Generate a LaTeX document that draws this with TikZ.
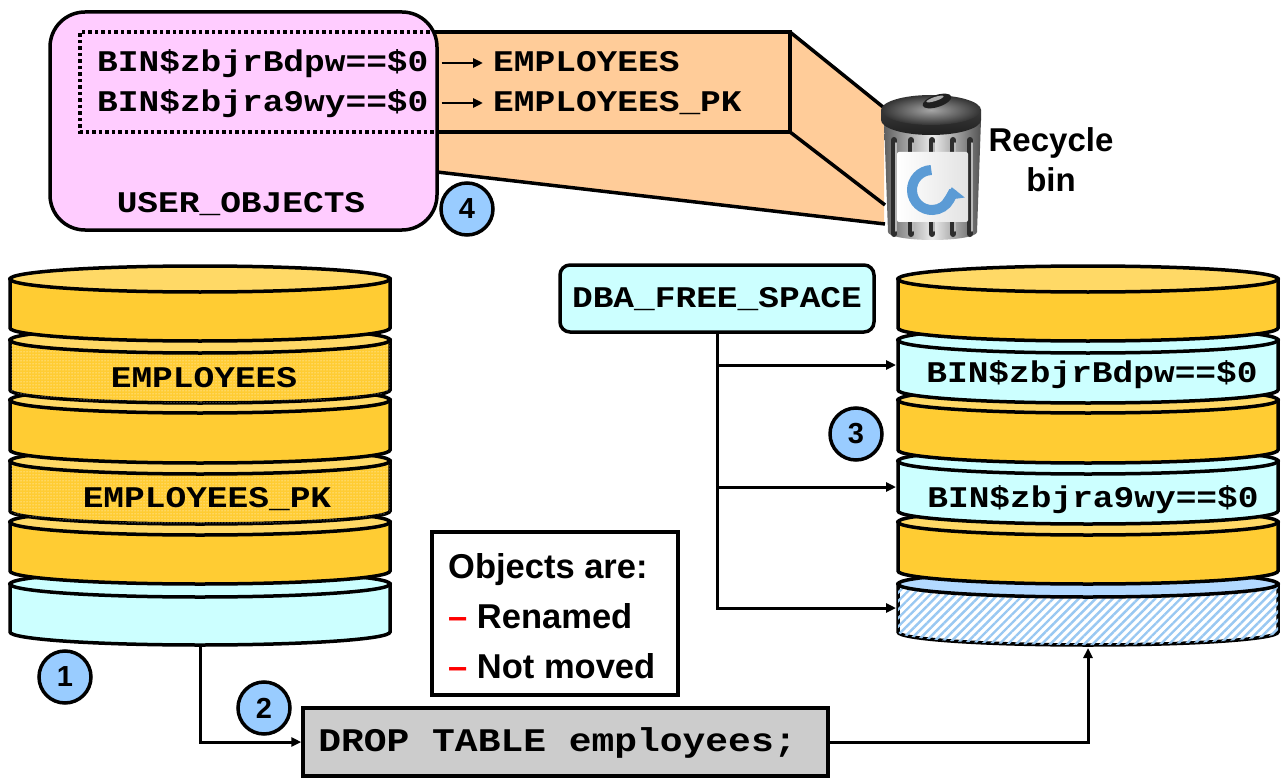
\documentclass[tikz,border=0pt]{standalone}
\usepackage{fontspec}
\setmainfont{Liberation Sans}
\newfontfamily\codefont{Liberation Mono}[FakeStretch=1.15]
\usetikzlibrary{arrows.meta,patterns,patterns.meta}

\definecolor{gold}{HTML}{FFCC33}
\definecolor{goldtop}{HTML}{FFD966}
\definecolor{icecyan}{HTML}{CCFFFF}
\definecolor{pinkbox}{HTML}{FFCCFF}
\definecolor{peach}{HTML}{FFCC99}
\definecolor{stepblue}{HTML}{99CCFF}
\definecolor{freeblue}{HTML}{B3D9FF}
\definecolor{hatchblue}{HTML}{99C8F2}
\definecolor{iconblue}{HTML}{5B9BD5}
\definecolor{cmdgray}{HTML}{CCCCCC}

% one disk of a tablespace stack: #1 centre x, #2 top y, #3 bottom y,
% #4 side fill options, #5 top fill colour
\newcommand\dbslice[5]{%
  \path[draw=black, line width=3.5pt, #4]
    (#1-190,-#2) -- (#1-190,-#3)
    arc[start angle=180, end angle=360, x radius=190, y radius=13]
    -- (#1+190,-#2) -- cycle;
  \filldraw[fill=#5, line width=3.5pt] (#1,-#2) ellipse[x radius=190, y radius=13];
}

\tikzset{
  code/.style={font=\codefont\bfseries\fontsize{30}{36}\selectfont, inner sep=0pt,
    text height=22pt, text depth=4pt},
  cmdcode/.style={font=\codefont\bfseries\fontsize{33}{38}\selectfont,
    text height=22pt, text depth=4pt},
  stepnum/.style={circle, draw, line width=3.5pt, fill=stepblue, minimum size=52pt,
    inner sep=0pt, font=\bfseries\fontsize{29}{32}\selectfont},
  label/.style={font=\bfseries\fontsize{34.5}{40}\selectfont, inner sep=0pt},
  conn/.style={line width=3pt, -{Triangle[length=10pt,width=9pt]}},
  thinarrow/.style={line width=2.8pt, -{Triangle[length=10pt,width=9pt]}},
  gold side/.style={fill=gold},
  dotted side/.style={fill=gold, postaction={pattern=dots, pattern color=white}},
  cyan side/.style={fill=icecyan},
  free side/.style={fill=white, postaction={pattern={Lines[angle=45,distance=6pt,line width=2.4pt]}, pattern color=hatchblue}},
}

\begin{document}
\begin{tikzpicture}[x=1pt, y=1pt]
\useasboundingbox (0,0) rectangle (1282,-778);
\fill[white] (0,0) rectangle (1282,-778);

% ---- projection from the dictionary view to the recycle bin ----
\fill[peach] (436,-32) -- (790,-32) -- (884,-108) -- (884,-224) -- (436,-172) -- cycle;
\draw[line width=3.5pt] (436,-32) -- (790,-32) -- (790,-132) -- (436,-132);
\draw[line width=3.5pt] (790,-32) -- (883,-107);
\draw[line width=3.5pt] (790,-132) -- (885,-205);
\draw[line width=3.5pt] (437,-172) -- (885,-224);

% ---- USER_OBJECTS panel ----
\node[draw, line width=3.5pt, fill=pinkbox, rounded corners=35pt,
      minimum width=387pt, minimum height=218pt] (uo) at (243.5,-121) {};
\draw[line width=3.5pt, dash pattern=on 3.5pt off 3pt] (436,-32) -- (80,-32) -- (80,-132) -- (436,-132);
\node[code, anchor=base west] (bin1) at (97,-72) {BIN\$zbjrBdpw==\$0};
\node[code, anchor=base west] (bin2) at (97,-112) {BIN\$zbjra9wy==\$0};
\node[code, anchor=base west] (orig1) at (493,-72) {EMPLOYEES};
\node[code, anchor=base west] (orig2) at (493,-112) {EMPLOYEES\_PK};
\draw[thinarrow, shorten <=13pt, shorten >=10pt] (bin1.east) -- (bin1.east -| orig1.west);
\draw[thinarrow, shorten <=13pt, shorten >=10pt] (bin2.east) -- (bin2.east -| orig2.west);
\node[code, anchor=base] (uolabel) at (241,-213) {USER\_OBJECTS};

% ---- recycle bin icon ----
\shade[left color=gray!75!black, right color=gray!65!black, middle color=gray!15]
  (884,-120) -- (888,-232) arc[start angle=180, end angle=360, x radius=44.5, y radius=8]
  -- (981,-120) -- cycle;
\foreach \rx in {894,911,932,953,970} {
  \draw[line width=6pt, line cap=round, gray!35!black] (\rx,-140) -- (\rx,-234);
  \draw[line width=1.5pt, line cap=round, gray!55] (\rx+2,-143) -- (\rx+2,-231);
}
\shade[left color=white, right color=gray!22, rounded corners=2pt] (897,-152) rectangle (968,-222);
\draw[iconblue, line width=10pt, -{Triangle[length=12pt,width=22pt]}]
  ([shift={(92:20)}]932,-190) arc[start angle=92, end angle=368, radius=20];
% lid: dark rim band and shaded top
\shade[top color=gray!45!black, bottom color=gray!25!black]
  (881,-110) -- (881,-120) arc[start angle=180, end angle=360, x radius=50, y radius=15]
  -- (981,-110) -- cycle;
\shade[inner color=gray!70, outer color=gray!40!black] (931,-110) ellipse[x radius=50, y radius=15];
\fill[gray!25!black, rotate around={18:(937,-101)}] (937,-101) ellipse[x radius=15, y radius=6];
\fill[gray!65, rotate around={18:(935,-99)}] (935,-99) ellipse[x radius=9, y radius=2];
\node[font=\bfseries\fontsize{33}{40}\selectfont, align=center, inner sep=0pt] (rbin) at (1051,-160) {Recycle\\bin};

% ---- tablespace before the drop ----
\dbslice{200}{584}{632}{cyan side}{icecyan}
\dbslice{200}{522}{571}{gold side}{goldtop}
\dbslice{200}{461}{511}{dotted side}{goldtop}
\dbslice{200}{400}{450}{gold side}{goldtop}
\dbslice{200}{340}{390}{dotted side}{goldtop}
\dbslice{200}{279}{328}{gold side}{goldtop}
\node[code, anchor=base] (lemp) at (204,-387) {EMPLOYEES};
\node[code, anchor=base] (lemppk) at (207,-507) {EMPLOYEES\_PK};
\coordinate (lbot) at (200,-646);

% ---- tablespace after the drop ----
\dbslice{1088}{584}{632}{free side}{freeblue}
\dbslice{1088}{522}{571}{gold side}{goldtop}
\dbslice{1088}{461}{511}{cyan side}{icecyan}
\dbslice{1088}{400}{450}{gold side}{goldtop}
\dbslice{1088}{340}{390}{cyan side}{icecyan}
\dbslice{1088}{279}{328}{gold side}{goldtop}
\node[code, anchor=base] (rbin1) at (1092,-382) {BIN\$zbjrBdpw==\$0};
\node[code, anchor=base] (rbin2) at (1093,-507) {BIN\$zbjra9wy==\$0};
\coordinate (r2w) at (896,-365);
\coordinate (r4w) at (896,-487);
\coordinate (r6w) at (896,-608);
\coordinate (rbot) at (1088,-648);

% ---- free space view ----
\node[draw, line width=3.5pt, fill=icecyan, rounded corners=10pt, code,
      minimum width=314pt, minimum height=67pt] (dba) at (717,-298.5) {DBA\_FREE\_SPACE};
\draw[conn] (dba.south) |- (r6w);
\draw[conn] (dba.south |- r2w) -- (r2w);
\draw[conn] (dba.south |- r4w) -- (r4w);

% ---- notes box ----
\node[draw, line width=3.5pt, fill=white, minimum width=246pt, minimum height=163pt] (notes) at (555,-613.5) {};
\node[label, anchor=base west] (n0) at (448,-578) {Objects are:};
\node[label, anchor=base west] (n1) at (448,-628) {\textcolor{red}{–} Renamed};
\node[label, anchor=base west] (n2) at (448,-678) {\textcolor{red}{–} Not moved};

% ---- drop command (text sits a little left of centre) ----
\node[draw, line width=3.5pt, fill=cmdgray, cmdcode,
      minimum width=525pt, minimum height=68pt] (drop) at (565.5,-742) {\hspace*{-16pt}DROP TABLE employees;};
\draw[conn] (lbot) |- (drop.west);
\draw[conn] (drop.east) -| (rbot);

% ---- step markers ----
\node[stepnum] (s1) at (65,-677) {1};
\node[stepnum] (s2) at (264,-708) {2};
\node[stepnum] (s3) at (856,-434) {3};
\node[stepnum] (s4) at (467,-209) {4};
\end{tikzpicture}
\end{document}
